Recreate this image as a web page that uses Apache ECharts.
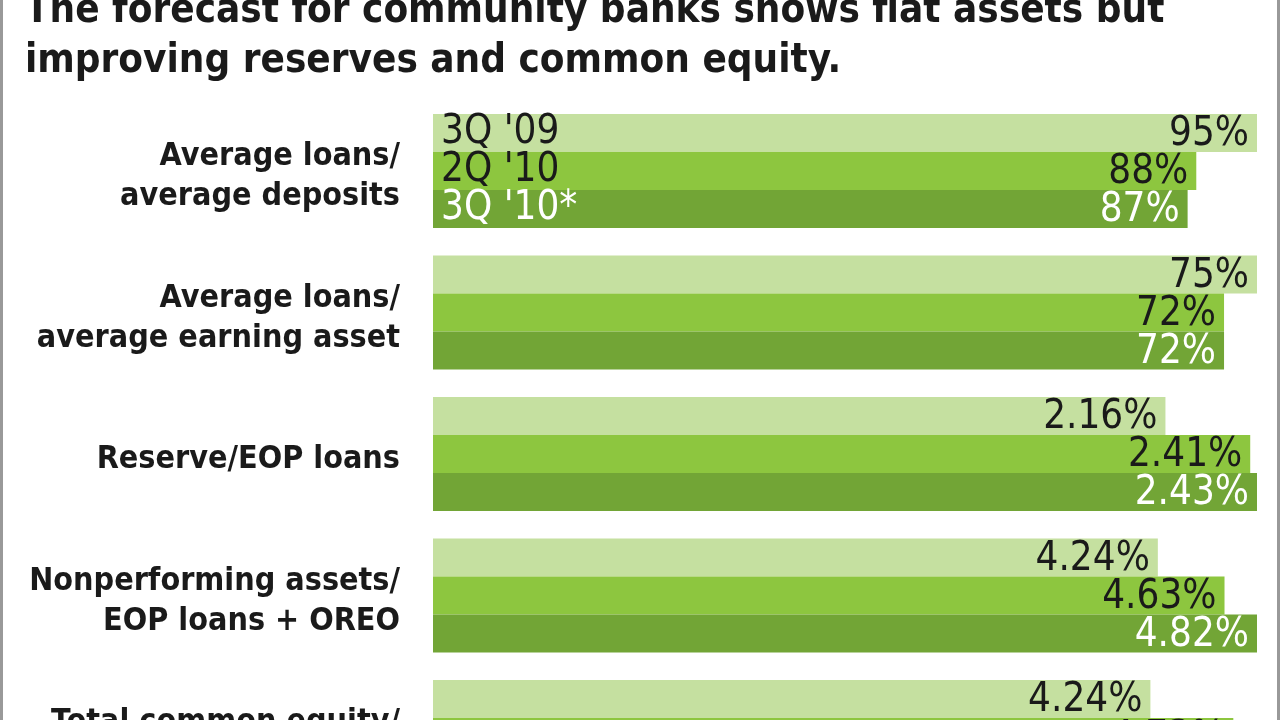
<!DOCTYPE html>
<html>
<head>
<meta charset="utf-8">
<script src="https://cdn.jsdelivr.net/npm/echarts@6/dist/echarts.min.js"></script>
<style>
  html, body { margin: 0; padding: 0; background: #ffffff; overflow: hidden; }
  #chart { width: 1280px; height: 820px; }
</style>
</head>
<body>
<div id="chart"></div>
<script>
// ---- Data ----
const titleText = "The forecast for community banks shows flat assets but\nimproving reserves and common equity.";
const categories = [
  "Average loans/\naverage deposits",
  "Average loans/\naverage earning asset",
  "Reserve/EOP loans",
  "Nonperforming assets/\nEOP loans + OREO",
  "Total common equity/\ntotal assets"
];
const periods = ["3Q '09", "2Q '10", "3Q '10*"];
const values3Q09 = [95, 75, 2.16, 4.24, 4.24];
const values2Q10 = [88, 72, 2.41, 4.63, 4.73];
const values3Q10 = [87, 72, 2.43, 4.82, 4.87];

// ---- Styles / layout ----
const barColors = ['#c5e0a0', '#8dc63f', '#72a536'];
const labelColors = ['#1a1a1a', '#1a1a1a', '#ffffff'];
const gridLeft = 433, gridWidth = 824, firstTop = 114, groupStep = 141.5, groupHeight = 114;
const valueFont = 'DejaVu Sans Condensed';
const catFont = 'DejaVu Sans Condensed';

const grids = [], xAxes = [], yAxes = [], series = [], catTexts = [];
categories.forEach((cat, i) => {
  const top = firstTop + i * groupStep;
  grids.push({ left: gridLeft, width: gridWidth, top: top, height: groupHeight, containLabel: false });
  xAxes.push({ type: 'value', gridIndex: i, min: 0, max: 'dataMax', show: false });
  yAxes.push({
    type: 'category', gridIndex: i, data: periods, inverse: true, z: 10,
    axisLine: { show: false }, axisTick: { show: false }, splitLine: { show: false },
    axisLabel: {
      show: i === 0, inside: true, margin: 8, interval: 0,
      fontFamily: valueFont, fontSize: 40, padding: [4, 0, 0, 0],
      color: (v, idx) => labelColors[idx]
    }
  });
  catTexts.push({
    type: 'text', x: gridLeft - 33, y: top + groupHeight / 2 + 6, z: 5,
    style: {
      text: cat, align: 'right', verticalAlign: 'middle', lineHeight: 40,
      font: 'bold 32px "DejaVu Sans Condensed"', fill: '#1a1a1a'
    }
  });
  const vals = [values3Q09[i], values2Q10[i], values3Q10[i]];
  series.push({
    type: 'bar', xAxisIndex: i, yAxisIndex: i,
    barCategoryGap: '0%', animation: false,
    data: vals.map((v, k) => ({
      value: v,
      itemStyle: { color: barColors[k] },
      label: { color: labelColors[k] }
    })),
    label: {
      show: true, position: 'insideRight', distance: 8, offset: [0, 2],
      fontFamily: valueFont, fontSize: 40,
      formatter: p => p.value + '%'
    }
  });
});

const chart = echarts.init(document.getElementById('chart'), null, { renderer: 'canvas' });
chart.setOption({
  backgroundColor: '#ffffff',
  animation: false,
  title: {
    text: titleText, left: 20, top: -18,
    textStyle: { fontFamily: catFont, fontWeight: 'bold', fontSize: 40, lineHeight: 50, color: '#1a1a1a' }
  },
  grid: grids, xAxis: xAxes, yAxis: yAxes, series: series,
  graphic: [
    { type: 'rect', left: 0, top: 0, shape: { width: 3, height: 820 }, style: { fill: '#999999' } },
    { type: 'rect', left: 1277, top: 0, shape: { width: 3, height: 820 }, style: { fill: '#999999' } }
  ].concat(catTexts)
});
</script>
</body>
</html>
